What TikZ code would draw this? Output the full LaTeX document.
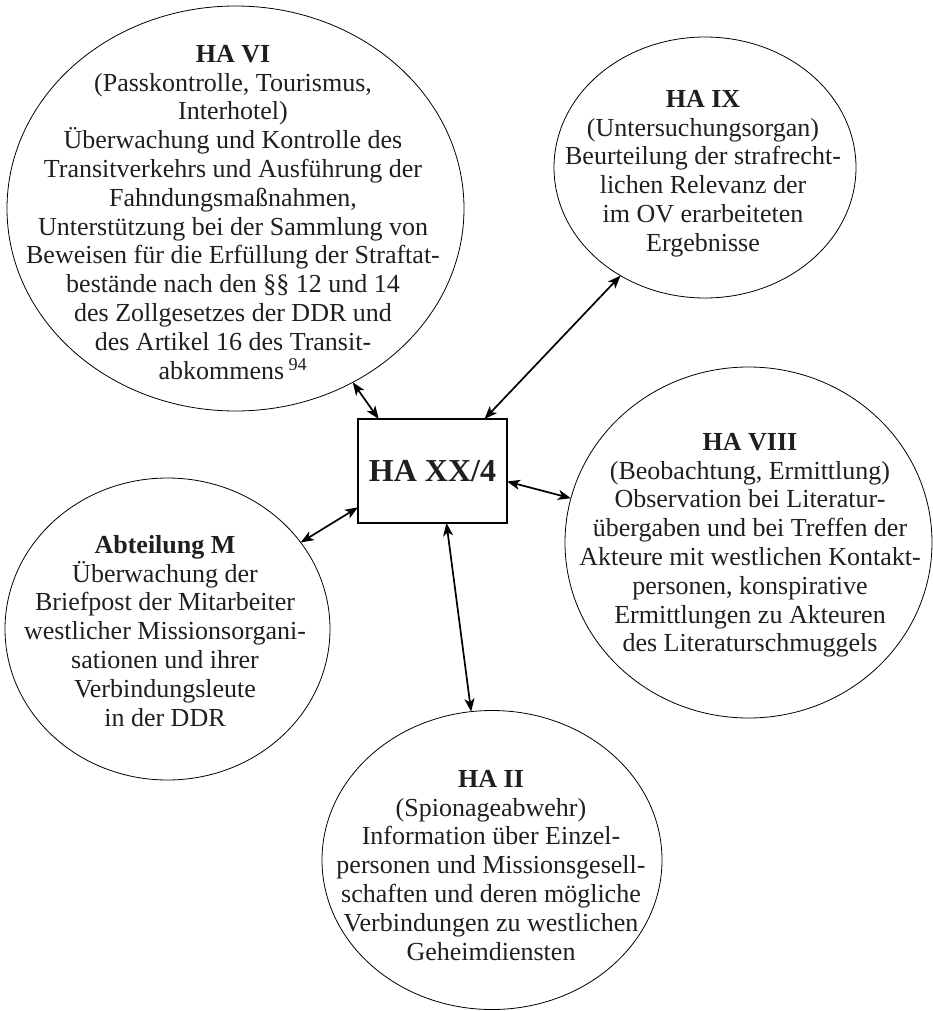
\documentclass[tikz,border=0pt]{standalone}
\usepackage{fontspec}
\setmainfont{Liberation Serif}
\usetikzlibrary{arrows.meta,shapes.geometric}
\tikzset{
  bubble/.style={draw, line width=0.8pt, ellipse, inner sep=0pt, outer sep=0pt},
  bubbletext/.style={align=center, inner sep=0pt, anchor=north, text=black!88,
    font=\fontsize{26}{28.8}\selectfont},
  centerbox/.style={draw, line width=1.3pt, rectangle, inner sep=0pt, outer sep=0pt,
    minimum width=149pt, minimum height=104pt, text=black!88,
    font=\fontsize{32}{36}\selectfont\bfseries},
  tip/.style={Stealth[length=13pt,width=10pt,inset=3.5pt]},
  link/.style={line width=1.7pt, {Stealth[length=13pt,width=10pt,inset=3.5pt]}-{Stealth[length=13pt,width=10pt,inset=3.5pt]}}
}
\begin{document}
\begin{tikzpicture}[x=1pt,y=-1pt]
\useasboundingbox (0,0) rectangle (933,1011);

% ellipses
\node[bubble, minimum width=457pt, minimum height=405pt] (vi) at (235.5,208.5) {};
\node[bubble, minimum width=302pt, minimum height=261pt] (ix) at (705,167.5) {};
\node[bubble, minimum width=367pt, minimum height=351pt] (viii) at (748.5,542.5) {};
\node[bubble, minimum width=325pt, minimum height=302pt] (m) at (167.5,629) {};
\node[bubble, minimum width=340pt, minimum height=299pt] (ii) at (492,860) {};

% centre box
\node[centerbox] (box) at (432.5,471) {HA XX/4};

% texts
\node[bubbletext] (vit) at (233,45) {\textbf{HA VI}\\
(Passkontrolle, Tourismus,\\
Interhotel)\\
Überwachung und Kontrolle des\\
Transitverkehrs und Ausführung der\\
Fahndungsmaßnahmen,\\
Unterstützung bei der Sammlung von\\
Beweisen für die Erfüllung der Straftat-\\
bestände nach den §§ 12 und 14\\
des Zollgesetzes der DDR und\\
des Artikel 16 des Transit-\\
abkommens\,\textsuperscript{94}};

\node[bubbletext] (ixt) at (703,90) {\textbf{HA IX}\\
(Untersuchungsorgan)\\
Beurteilung der strafrecht-\\
lichen Relevanz der\\
im OV erarbeiteten\\
Ergebnisse};

\node[bubbletext] (viiit) at (750,433) {\textbf{HA VIII}\\
(Beobachtung, Ermittlung)\\
Observation bei Literatur-\\
übergaben und bei Treffen der\\
Akteure mit westlichen Kontakt-\\
personen, konspirative\\
Ermittlungen zu Akteuren\\
des Literaturschmuggels};

\node[bubbletext] (mt) at (165,535) {\textbf{Abteilung M}\\
Überwachung der\\
Briefpost der Mitarbeiter\\
westlicher Missionsorgani-\\
sationen und ihrer\\
Verbindungsleute\\
in der DDR};

\node[bubbletext] (iit) at (491,770) {\textbf{HA II}\\
(Spionageabwehr)\\
Information über Einzel-\\
personen und Missionsgesell-\\
schaften und deren mögliche\\
Verbindungen zu westlichen\\
Geheimdiensten};

% connectors
\draw[link] (vi.-56) -- (box.136);
\draw[link] (ix.232) -- (box.45);
\draw[link] (viii.166) -- (box.-8);
\draw[link] (m.33) -- (box.206);
\draw[link] (ii.98) -- (box.-75);
\end{tikzpicture}
\end{document}
